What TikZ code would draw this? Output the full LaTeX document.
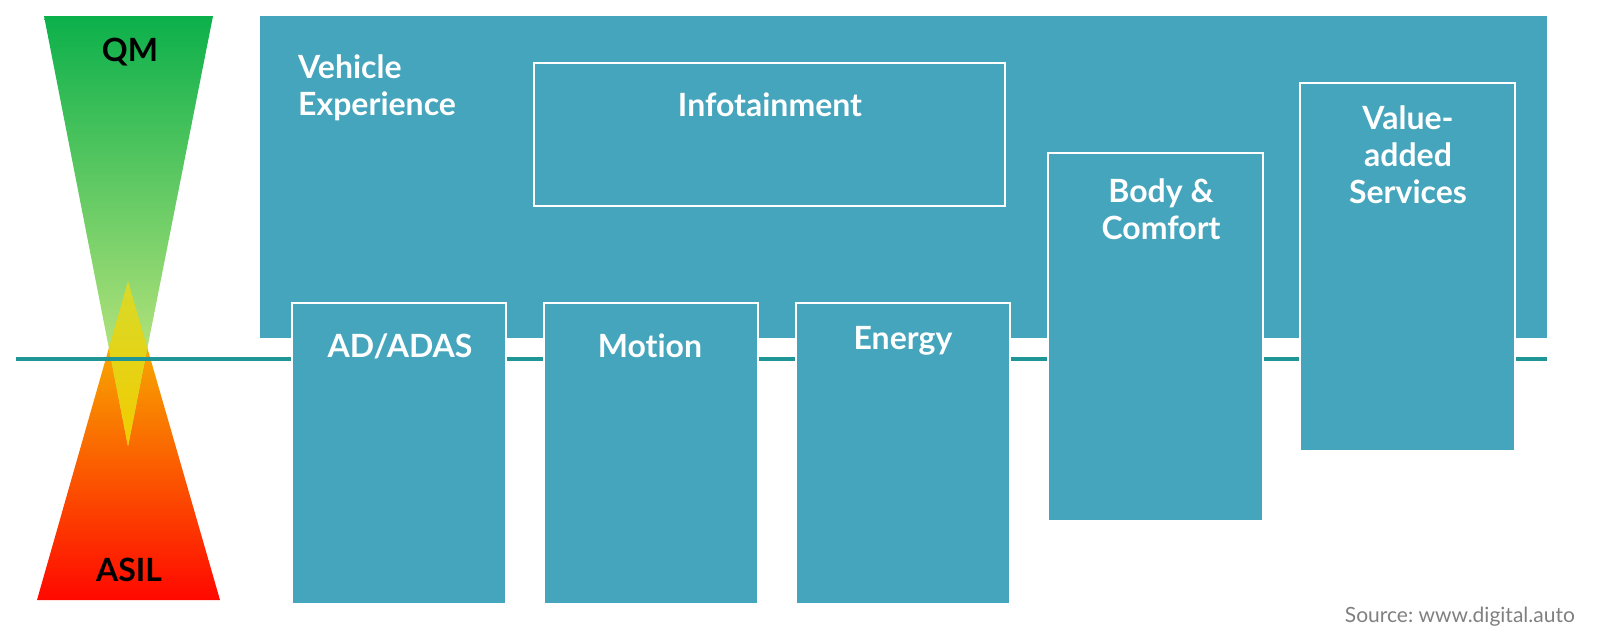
\documentclass[tikz,border=0pt]{standalone}
\usepackage{fontspec}
\setmainfont{Lato}[Ligatures=NoCommon]
\frenchspacing
\definecolor{boxc}{HTML}{44A5BC}
\definecolor{linec}{HTML}{1F9595}
\definecolor{gtop}{HTML}{0BB04B}
\definecolor{gmid}{HTML}{78C452}
\definecolor{gbot}{HTML}{E2F088}
\definecolor{rtop}{HTML}{F5D200}
\definecolor{rmid}{HTML}{FF8C00}
\definecolor{rbot}{HTML}{FF0800}
\definecolor{otop}{HTML}{D8DA2A}
\definecolor{obot}{HTML}{F2CC00}
\definecolor{srcc}{HTML}{808080}
\tikzset{
  blk/.style={fill=boxc, draw=white, line width=2pt, inner sep=0pt},
  big/.style={fill=boxc, draw=none, inner sep=0pt},
  lbl/.style={text=white, font=\bfseries\fontsize{32}{37}\selectfont, align=center, inner sep=0pt},
  lvl/.style={text=black, font=\bfseries\fontsize{32}{34}\selectfont, inner sep=0pt},
}
\begin{document}
\begin{tikzpicture}[x=1pt,y=-1pt]
\useasboundingbox (0,0) rectangle (1600,640);
% triangles
\coordinate (gTL) at (44,16);
\coordinate (gTR) at (213,16);
\coordinate (gA) at (128,446);
\coordinate (rBL) at (37,600);
\coordinate (rBR) at (220,600);
\coordinate (rA) at (128,281);
\shade[top color=rtop, middle color=rmid, bottom color=rbot] (rBL) -- (rBR) -- (rA) -- cycle;
\shade[top color=gtop, middle color=gmid, bottom color=gbot] (gTL) -- (gTR) -- (gA) -- cycle;
\begin{scope}
  \clip (gTL) -- (gTR) -- (gA) -- cycle;
  \clip (rBL) -- (rBR) -- (rA) -- cycle;
  \shade[top color=otop, bottom color=obot] (0,281) rectangle (260,446);
\end{scope}
\node[lvl] (qm) at (130,52) {QM};
\node[lvl] (asil) at (129,570) {ASIL};
% big box
\node[big, minimum width=1287, minimum height=322] (ve) at (903.5,177) {};
% teal line
\coordinate (l1) at (16,359);
\coordinate (l2) at (1547,359);
\draw[linec, line width=4pt] (l1) -- (l2);
% boxes
\node[blk, minimum width=471, minimum height=143] (info) at (769.5,134.5) {};
\node[blk, minimum width=214, minimum height=301] (adas) at (399,453.5) {};
\node[blk, minimum width=214, minimum height=301] (motion) at (651,453.5) {};
\node[blk, minimum width=214, minimum height=301] (energy) at (903,453.5) {};
\node[blk, minimum width=215, minimum height=368] (body) at (1155.5,337) {};
\node[blk, minimum width=215, minimum height=368] (vas) at (1407.5,267) {};
% labels
\node[lbl, align=left, anchor=west] (vet) at (298,88) {Vehicle\\Experience};
\node[lbl] (infot) at (770,105) {Infotainment};
\node[lbl] (adast) at (400,346) {AD/ADAS};
\node[lbl] (motiont) at (650,346) {Motion};
\node[lbl] (energyt) at (903,341) {Energy};
\node[lbl] (bodyt) at (1161,209) {Body \&\\Comfort};
\node[lbl] (vast) at (1408,155) {Value-\\added\\Services};
\node[text=srcc, font=\fontsize{21}{24}\selectfont, anchor=east, inner sep=0pt] (src) at (1575,617) {Source: www.digital.auto};
\end{tikzpicture}
\end{document}
